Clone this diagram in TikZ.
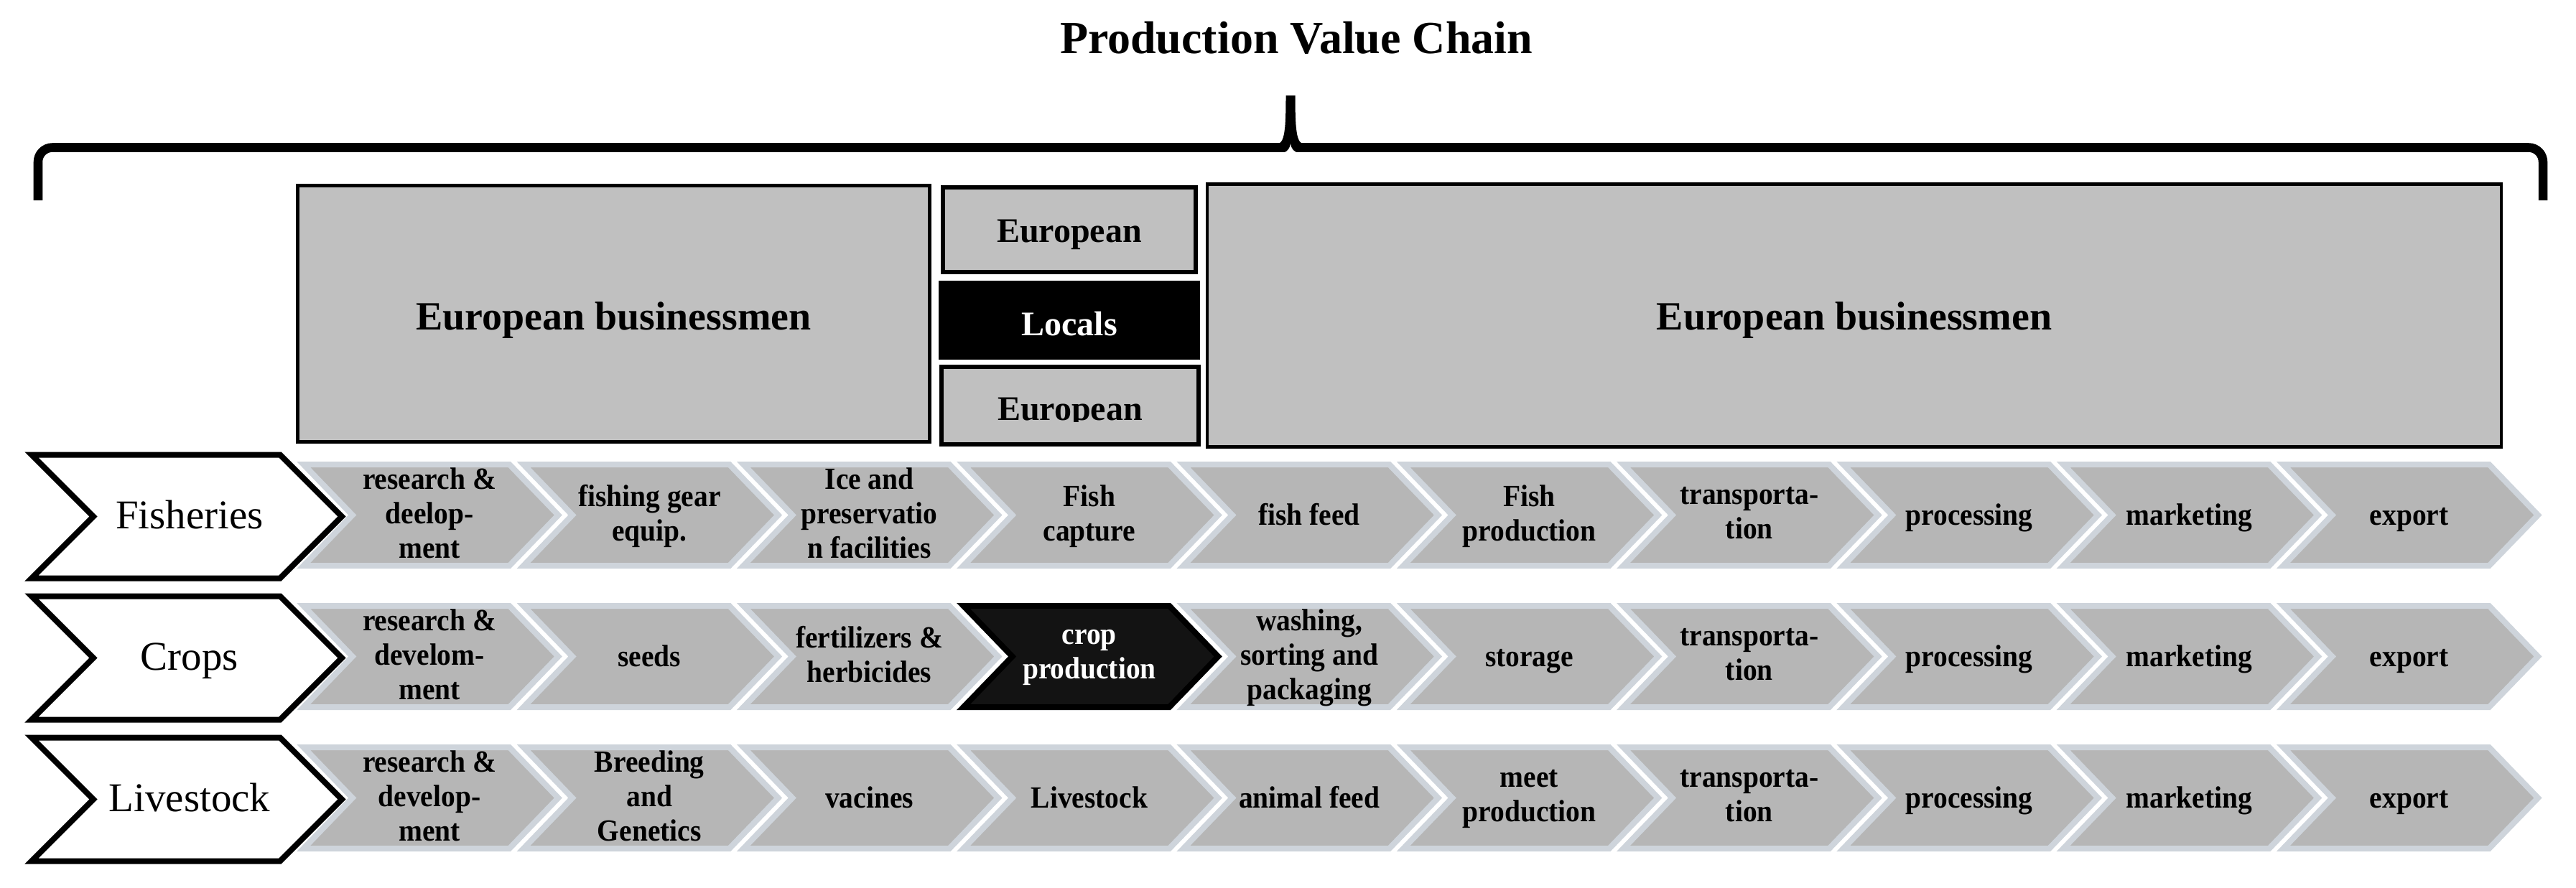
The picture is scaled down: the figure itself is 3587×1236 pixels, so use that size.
\documentclass[tikz,border=0pt]{standalone}
\usepackage{fontspec}
\setmainfont{Liberation Serif}
\newfontfamily\chevfont[FakeStretch=0.92]{Liberation Serif}
\definecolor{chevfill}{HTML}{B6B6B6}
\definecolor{chevline}{HTML}{CED4DB}
\definecolor{chevdark}{HTML}{131313}
\definecolor{boxfill}{HTML}{C0C0C0}
\begin{document}
\begin{tikzpicture}[x=0.01cm,y=-0.01cm,
  chev/.style={fill=chevfill,draw=chevline,line width=2.28pt,line join=miter},
  chevblack/.style={fill=chevdark,draw=black,line width=2.28pt,line join=miter},
  sector/.style={fill=white,draw=black,line width=2.28pt,line join=miter},
  chevtext/.style={align=center,inner sep=0pt,yshift=-0.04cm,font=\chevfont\bfseries\fontsize{12.2}{13.66}\selectfont,execute at begin node=\strut,execute at end node=\strut},
  sectortext/.style={anchor=base,inner sep=0pt,font=\fontsize{16.2}{19}\selectfont},
  bigbox/.style={draw=black,fill=boxfill,line width=1.35pt,inner sep=0pt},
  smallbox/.style={draw=black,fill=boxfill,line width=1.71pt,inner sep=0pt},
  localbox/.style={fill=black,inner sep=0pt},
  boxtext/.style={anchor=base,inner sep=0pt,font=\bfseries\fontsize{15.9}{19}\selectfont},
  smalltext/.style={anchor=base,inner sep=0pt,font=\bfseries\fontsize{13.66}{16}\selectfont},
  titletext/.style={anchor=base,inner sep=0pt,font=\bfseries\fontsize{18.2}{22}\selectfont},
  brace/.style={line width=3.56pt}
]
\fill[white] (0,0) rectangle (3587,1236);
\useasboundingbox (0,0) rectangle (3587,1236);

% title
\node[titletext] (title) at (1805,74) {Production Value Chain};

% brace
\draw[brace, rounded corners=0.2cm] (53,279) -- (53,205.5) -- (3541,205.5) -- (3541,279);
\fill (1790.5,133) -- (1803.5,133) .. controls (1803.5,188) and (1806,201) .. (1818,201) -- (1776,201) .. controls (1788,201) and (1790.5,188) .. (1790.5,133) -- cycle;
\fill[white] (1787,213) .. controls (1793,211) and (1796.5,206) .. (1797,200) .. controls (1797.5,206) and (1801,211) .. (1807,213) -- cycle;

% actor boxes
\node[bigbox, minimum width=8.80cm, minimum height=3.57cm] (lbox) at (854.5,437) {};
\node[boxtext] (lboxt) at (854.5,459) {European businessmen};
\node[smallbox, minimum width=3.52cm, minimum height=1.18cm] (eu1) at (1489,320) {};
\node[smalltext] (eu1t) at (1489,337) {European};
\node[localbox, minimum width=3.64cm, minimum height=1.10cm] (loc) at (1489,446) {};
\node[smalltext, text=white] (loct) at (1489,467) {Locals};
\node[smallbox, minimum width=3.58cm, minimum height=1.08cm] (eu2) at (1490,565) {};
\begin{scope}
\clip (1300,500) rectangle (1680,587);
\node[smalltext] (eu2t) at (1490,585) {European};
\end{scope}
\node[bigbox, minimum width=18.01cm, minimum height=3.66cm] (rbox) at (2582,439.5) {};
\node[boxtext] (rboxt) at (2582,459) {European businessmen};

% grey chevrons
\foreach \yc in {717.5,914.5,1111.5}{
  \foreach \i in {0,...,9}{
    \pgfmathsetmacro\xo{413+306.3*\i}
    \path[chev] (\xo+9.7,\yc-70.5) -- (\xo+296.3,\yc-70.5) -- (\xo+364.3,\yc) -- (\xo+296.3,\yc+70.5) -- (\xo+9.7,\yc+70.5) -- (\xo+77.7,\yc) -- cycle;
  }
}
% black chevron (crop production)
\path[chevblack] (1341.6,844) -- (1628.2,844) -- (1696.2,914.5) -- (1628.2,985) -- (1341.6,985) -- (1409.6,914.5) -- cycle;

% sector chevrons
\foreach \yc in {719.5,916.5,1113.5}{
  \path[sector] (44,\yc-86) -- (390,\yc-86) -- (476,\yc) -- (390,\yc+86) -- (44,\yc+86) -- (130,\yc) -- cycle;
}
\node[sectortext] (fish) at (264,736) {Fisheries};
\node[sectortext] (crops) at (264,933) {Crops};
\node[sectortext] (live) at (264,1130) {Livestock};

% row 1: fisheries
\node[chevtext] (f0) at (598,717.5) {research \&\\deelop-\\ment};
\node[chevtext] (f1) at (904.3,717.5) {fishing gear\\equip.};
\node[chevtext] (f2) at (1210.6,717.5) {Ice and\\preservatio\\n facilities};
\node[chevtext] (f3) at (1516.9,717.5) {Fish\\capture};
\node[chevtext] (f4) at (1823.2,717.5) {fish feed};
\node[chevtext] (f5) at (2129.5,717.5) {Fish\\production};
\node[chevtext] (f6) at (2435.8,717.5) {transporta-\\tion};
\node[chevtext] (f7) at (2742.1,717.5) {processing};
\node[chevtext] (f8) at (3048.4,717.5) {marketing};
\node[chevtext] (f9) at (3354.7,717.5) {export};

% row 2: crops
\node[chevtext] (c0) at (598,914.5) {research \&\\develom-\\ment};
\node[chevtext] (c1) at (904.3,914.5) {seeds};
\node[chevtext] (c2) at (1210.6,914.5) {fertilizers \&\\herbicides};
\node[chevtext, text=white] (c3) at (1516.9,914.5) {crop\\production};
\node[chevtext] (c4) at (1823.2,914.5) {washing,\\sorting and\\packaging};
\node[chevtext] (c5) at (2129.5,914.5) {storage};
\node[chevtext] (c6) at (2435.8,914.5) {transporta-\\tion};
\node[chevtext] (c7) at (2742.1,914.5) {processing};
\node[chevtext] (c8) at (3048.4,914.5) {marketing};
\node[chevtext] (c9) at (3354.7,914.5) {export};

% row 3: livestock
\node[chevtext] (l0) at (598,1111.5) {research \&\\develop-\\ment};
\node[chevtext] (l1) at (904.3,1111.5) {Breeding\\and\\Genetics};
\node[chevtext] (l2) at (1210.6,1111.5) {vacines};
\node[chevtext] (l3) at (1516.9,1111.5) {Livestock};
\node[chevtext] (l4) at (1823.2,1111.5) {animal feed};
\node[chevtext] (l5) at (2129.5,1111.5) {meet\\production};
\node[chevtext] (l6) at (2435.8,1111.5) {transporta-\\tion};
\node[chevtext] (l7) at (2742.1,1111.5) {processing};
\node[chevtext] (l8) at (3048.4,1111.5) {marketing};
\node[chevtext] (l9) at (3354.7,1111.5) {export};
\end{tikzpicture}
\end{document}
